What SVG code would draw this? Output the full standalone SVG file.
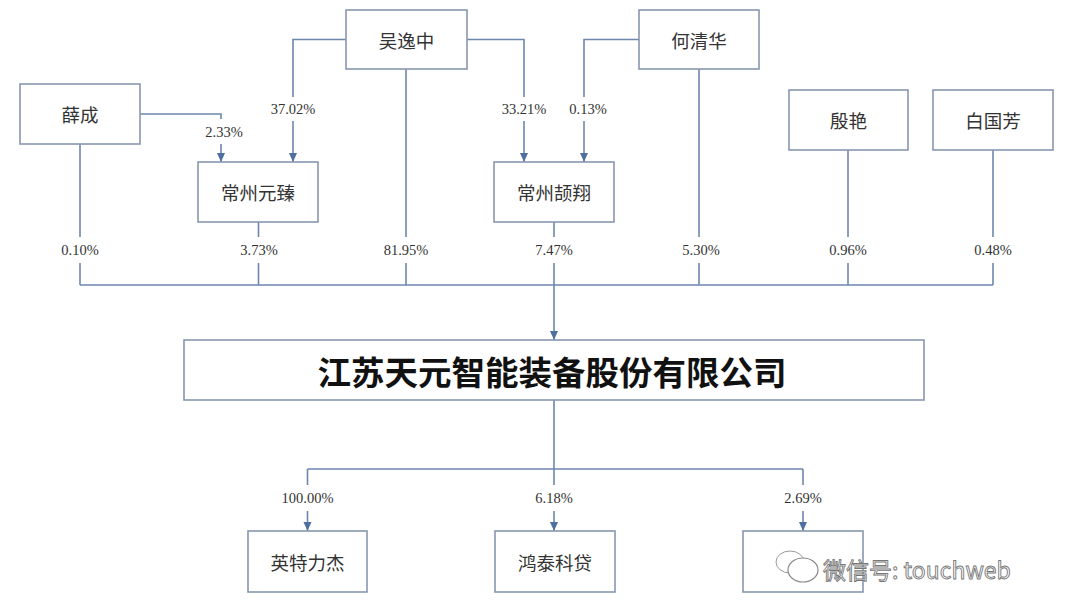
<svg xmlns="http://www.w3.org/2000/svg" width="1080" height="615" viewBox="0 0 1080 615">
<defs>
<marker id="arr" markerWidth="10" markerHeight="10" refX="9" refY="5" orient="auto" markerUnits="userSpaceOnUse" viewBox="0 0 10 10">
<path d="M0,1 L9,5 L0,9 Z" fill="#4f6fa0"/>
</marker>
<style>
.box{fill:#fff;stroke:#8797b0;stroke-width:1.6}
.ln{fill:none;stroke:#6d86ad;stroke-width:1.6}
.nm{font-family:"Noto Sans CJK SC","Noto Sans CJK JP",sans-serif;font-size:18.5px;fill:#333;text-anchor:middle;dominant-baseline:central}
.pc{font-family:"Liberation Serif",serif;font-size:14.5px;fill:#333;text-anchor:middle;dominant-baseline:central}
.big{font-family:"Noto Sans CJK SC",sans-serif;font-size:33.5px;font-weight:bold;fill:#111;text-anchor:middle;dominant-baseline:central}
.wm{font-family:"Noto Sans CJK SC",sans-serif;font-size:23px;fill:#fff;stroke:#777;stroke-width:0.9;dominant-baseline:central}
</style>
</defs>
<rect width="1080" height="615" fill="#fff"/>
<g id="connectors">
<polyline class="ln" points="346,39.5 293,39.5 293,97"/>
<line class="ln" x1="293" y1="121" x2="293" y2="162" marker-end="url(#arr)"/>
<polyline class="ln" points="467,39.5 524,39.5 524,97"/>
<line class="ln" x1="524" y1="121" x2="524" y2="162" marker-end="url(#arr)"/>
<polyline class="ln" points="140,114 221,114 221,119"/>
<line class="ln" x1="221" y1="144" x2="221" y2="162" marker-end="url(#arr)"/>
<polyline class="ln" points="639,39.5 584,39.5 584,97"/>
<line class="ln" x1="584" y1="121" x2="584" y2="162" marker-end="url(#arr)"/>
<line class="ln" x1="80" y1="144" x2="80" y2="237"/>
<line class="ln" x1="80" y1="263" x2="80" y2="285"/>
<line class="ln" x1="258.5" y1="222" x2="258.5" y2="237"/>
<line class="ln" x1="258.5" y1="263" x2="258.5" y2="285"/>
<line class="ln" x1="406" y1="69" x2="406" y2="237"/>
<line class="ln" x1="406" y1="263" x2="406" y2="285"/>
<line class="ln" x1="554" y1="222" x2="554" y2="237"/>
<line class="ln" x1="554" y1="263" x2="554" y2="340" marker-end="url(#arr)"/>
<line class="ln" x1="699" y1="69" x2="699" y2="237"/>
<line class="ln" x1="699" y1="263" x2="699" y2="285"/>
<line class="ln" x1="848" y1="150" x2="848" y2="237"/>
<line class="ln" x1="848" y1="263" x2="848" y2="285"/>
<line class="ln" x1="993" y1="150" x2="993" y2="237"/>
<line class="ln" x1="993" y1="263" x2="993" y2="285"/>
<line class="ln" x1="80" y1="285" x2="993" y2="285"/>
<line class="ln" x1="554" y1="400" x2="554" y2="469"/>
<line class="ln" x1="307.5" y1="469" x2="803" y2="469"/>
<line class="ln" x1="307.5" y1="469" x2="307.5" y2="485"/>
<line class="ln" x1="307.5" y1="511" x2="307.5" y2="531" marker-end="url(#arr)"/>
<line class="ln" x1="554" y1="469" x2="554" y2="485"/>
<line class="ln" x1="554" y1="511" x2="554" y2="531" marker-end="url(#arr)"/>
<line class="ln" x1="803" y1="469" x2="803" y2="485"/>
<line class="ln" x1="803" y1="511" x2="803" y2="531" marker-end="url(#arr)"/>
<text class="pc" x="293" y="109">37.02%</text>
<text class="pc" x="524" y="109">33.21%</text>
<text class="pc" x="224" y="132">2.33%</text>
<text class="pc" x="588" y="109">0.13%</text>
<text class="pc" x="80" y="250">0.10%</text>
<text class="pc" x="259" y="250">3.73%</text>
<text class="pc" x="406" y="250">81.95%</text>
<text class="pc" x="554" y="250">7.47%</text>
<text class="pc" x="701" y="250">5.30%</text>
<text class="pc" x="848" y="250">0.96%</text>
<text class="pc" x="993" y="250">0.48%</text>
<text class="pc" x="307.5" y="498">100.00%</text>
<text class="pc" x="554" y="498">6.18%</text>
<text class="pc" x="803" y="498">2.69%</text>
</g>
<g id="n-wuyizhong"><rect class="box" x="346" y="10" width="121" height="59"/><text class="nm" x="406.5" y="40">吴逸中</text></g>
<g id="n-heqinghua"><rect class="box" x="639" y="10" width="120" height="59"/><text class="nm" x="699" y="40">何清华</text></g>
<g id="n-xuecheng"><rect class="box" x="20" y="84" width="120" height="60"/><text class="nm" x="80" y="114">薛成</text></g>
<g id="n-yinyan"><rect class="box" x="789" y="90" width="119" height="60"/><text class="nm" x="848.5" y="120">殷艳</text></g>
<g id="n-baiguofang"><rect class="box" x="933" y="90" width="120" height="60"/><text class="nm" x="993" y="120">白国芳</text></g>
<g id="n-yuanzhen"><rect class="box" x="198" y="162" width="120" height="60"/><text class="nm" x="258" y="192">常州元臻</text></g>
<g id="n-jiexiang"><rect class="box" x="494" y="162" width="120" height="60"/><text class="nm" x="554" y="192">常州颉翔</text></g>
<g id="n-main"><rect class="box" x="184" y="340" width="740" height="60"/><text class="big" x="552" y="370">江苏天元智能装备股份有限公司</text></g>
<g id="n-yingtelijie"><rect class="box" x="248" y="531" width="119" height="61"/><text class="nm" x="307.5" y="562">英特力杰</text></g>
<g id="n-hongtai"><rect class="box" x="495" y="531" width="120" height="61"/><text class="nm" x="555" y="562">鸿泰科贷</text></g>
<g id="n-third"><rect class="box" x="743" y="531" width="120" height="61"/></g>
<g id="watermark">
<ellipse cx="790" cy="562" rx="14" ry="11" fill="#fff" stroke="#999" stroke-width="1"/>
<ellipse cx="803" cy="570" rx="15" ry="12" fill="#fff" stroke="#888" stroke-width="1.2"/>
<text class="wm" x="823" y="569">微信号: touchweb</text>
</g>
</svg>
